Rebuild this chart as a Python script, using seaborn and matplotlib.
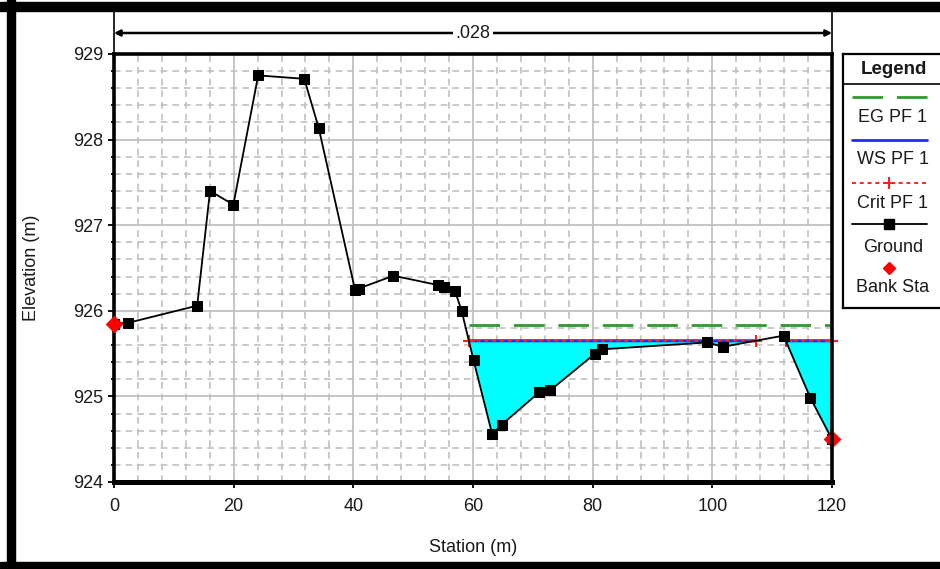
import numpy as np
import pandas as pd
import matplotlib
matplotlib.use("Agg")
import matplotlib.pyplot as plt
from matplotlib.lines import Line2D
from matplotlib.patches import Rectangle
from matplotlib.ticker import MultipleLocator
import seaborn as sns

# ---------------- data ----------------
station = [0, 2.4, 13.9, 16.05, 19.95, 24.1, 31.8, 34.2, 40.3, 40.9, 46.7, 54.2, 55.1,
           57.0, 58.1, 60.1, 63.2, 64.8, 71.1, 72.9, 80.4, 81.5, 99.1, 101.8, 111.9,
           116.4, 120]
elevation = [925.85, 925.86, 926.06, 927.40, 927.24, 928.75, 928.71, 928.14, 926.24,
             926.26, 926.41, 926.30, 926.28, 926.23, 926.00, 925.42, 924.56, 924.67,
             925.05, 925.07, 925.50, 925.55, 925.63, 925.58, 925.71, 924.98, 924.50]
bank_sta = [0, 120]
ws_elev = 925.65      # WS PF 1
crit_elev = 925.65    # Crit PF 1
eg_elev = 925.83      # EG PF 1
channel_start = 58.1  # left edge of the main channel search
mannings_n = ".028"
x_ticks = [0, 20, 40, 60, 80, 100, 120]
y_ticks = [924, 925, 926, 927, 928, 929]
legend_labels = ["EG PF 1", "WS PF 1", "Crit PF 1", "Ground", "Bank Sta"]

# ---------------- style ----------------
sns.set_style("white")
plt.rcParams["font.family"] = ["Liberation Sans", "DejaVu Sans"]

W, H = 940, 569
fig = plt.figure(figsize=(W / 100, H / 100), dpi=100)

def fx(px):
    return px / W

def fy(py):
    return 1 - py / H

ax = fig.add_axes([fx(114), fy(482), fx(832) - fx(114), fy(54) - fy(482)])
ax.set_xlim(x_ticks[0], x_ticks[-1])
ax.set_ylim(y_ticks[0], y_ticks[-1])

# grid
ax.xaxis.set_major_locator(MultipleLocator(20))
ax.xaxis.set_minor_locator(MultipleLocator(4))
ax.yaxis.set_major_locator(MultipleLocator(1))
ax.yaxis.set_minor_locator(MultipleLocator(0.2))
ax.grid(which="major", color="#c0c0c0", lw=1.3, ls="-", zorder=0)
ax.grid(which="minor", color="#c0c0c0", lw=1.2, ls=(0, (4, 3)), zorder=0)
ax.set_axisbelow(True)

# water surface computations
st = np.array(station, dtype=float)
el = np.array(elevation, dtype=float)
xs = np.linspace(channel_start, st[-1], 4000)
gi = np.interp(xs, st, el)
wet = gi < ws_elev

ax.fill_between(xs, gi, ws_elev, where=wet, interpolate=True, color="#00ffff",
                lw=0, zorder=2)

ws_line = np.where(wet, ws_elev, np.nan)
crit_line = np.where(gi < crit_elev, crit_elev, np.nan)
x_wet = xs[wet]

# EG line
eg_df = pd.DataFrame({"x": [x_wet.min(), st[-1]], "y": [eg_elev, eg_elev]})
sns.lineplot(data=eg_df, x="x", y="y", ax=ax, color="#2f9a2f", lw=2.0, zorder=3)
ax.lines[-1].set_linestyle((0, (11, 5)))

# WS line
ax.plot(xs, ws_line, color="#2828ff", lw=2.2, zorder=3, solid_capstyle="butt")
# Crit line (red dashes on top)
ax.plot(xs, crit_line, color="#ff2020", lw=1.4, ls=(0, (2, 2)), zorder=4)
# + markers at the ends of each crit segment
mask = ~np.isnan(crit_line)
edges = np.flatnonzero(np.diff(np.concatenate([[0], mask.astype(int), [0]])))
ends_x = []
for a, b in zip(edges[::2], edges[1::2]):
    ends_x += [xs[a], xs[b - 1]]
ax.plot(ends_x, [crit_elev] * len(ends_x), ls="none", marker="+", color="#ff2020",
        ms=8, mew=1.5, zorder=4, clip_on=False)

# Ground
gdf = pd.DataFrame({"Station": station, "Elevation": elevation})
sns.lineplot(data=gdf, x="Station", y="Elevation", ax=ax, color="black", lw=1.3,
             marker="s", markersize=7, markeredgecolor="black", sort=False, zorder=5)

# Bank stations
bdf = pd.DataFrame({"x": bank_sta, "y": np.interp(bank_sta, st, el)})
sns.scatterplot(data=bdf, x="x", y="y", ax=ax, marker="D", color="#ff0000", s=70,
                edgecolor="#ff0000", zorder=7, clip_on=False)

# axes cosmetics
for side, lw in [("left", 2.6), ("top", 2.6), ("right", 2.6), ("bottom", 3.6)]:
    ax.spines[side].set_visible(True)
    ax.spines[side].set_color("black")
    ax.spines[side].set_linewidth(lw)
ax.spines["right"].set_zorder(8)

ax.set_xticks(x_ticks)
ax.set_yticks(y_ticks)
ax.tick_params(which="major", direction="out", length=4.5, width=1.3, color="black",
               labelsize=13, pad=3, labelcolor="#1a1a1a",
               bottom=True, left=True, top=False, right=False)
ax.tick_params(which="minor", direction="out", length=2.5, width=1.3, color="black",
               bottom=True, left=True, top=False, right=False)
ax.tick_params(axis="x", which="major", pad=7)

ax.set_xlabel("Station (m)", fontsize=13, color="#1a1a1a")
ax.set_ylabel("Elevation (m)", fontsize=13, color="#1a1a1a")
ax.xaxis.set_label_coords(0.5, -(548 - 482) / 428, transform=ax.transAxes)
ax.yaxis.set_label_coords(-(114 - 32) / 718, 0.5, transform=ax.transAxes)
ax.xaxis.label.set_verticalalignment("center")
ax.yaxis.label.set_verticalalignment("center")

# Manning's n arrow above the plot
trans = ax.get_xaxis_transform()
y_arrow = (482 - 33) / 428
y_top = (482 - 12) / 428
for xv in [x_ticks[0], x_ticks[-1]]:
    ax.plot([xv, xv], [1.0, y_top], color="black", lw=1.2, transform=trans,
            clip_on=False, zorder=1)
ax.annotate("", xy=(x_ticks[-1], y_arrow), xytext=(x_ticks[0], y_arrow),
            xycoords=trans, textcoords=trans,
            arrowprops=dict(arrowstyle="<|-|>,head_length=0.35,head_width=0.18",
                            lw=1.8, color="black", shrinkA=0, shrinkB=0))
ax.text(np.mean([x_ticks[0], x_ticks[-1]]), y_arrow, mannings_n, transform=trans,
        ha="center", va="center", fontsize=13, color="#1a1a1a",
        bbox=dict(facecolor="white", edgecolor="none", pad=1.5), zorder=5)

# Legend box (custom, as in HEC-RAS)
lax = fig.add_axes([fx(843), fy(308), fx(960) - fx(843), fy(54) - fy(308)])
lax.set_xlim(843, 960)
lax.set_ylim(308, 54)
lax.set_xticks([])
lax.set_yticks([])
for s in lax.spines.values():
    s.set_linewidth(1.6)
    s.set_color("black")
lax.patch.set_facecolor("white")
lax.text(894, 69, "Legend", ha="center", va="center", fontsize=13.5,
         fontweight="bold", color="#1a1a1a")
lax.plot([843, 960], [84, 84], color="black", lw=1.2)
x0, x1 = 852, 927
lax.add_line(Line2D([x0, x1], [97, 97], color="#2f9a2f", lw=2.0, ls=(0, (11, 5))))
lax.add_line(Line2D([x0, x1], [140, 140], color="#2828ff", lw=2.0))
lax.add_line(Line2D([x0, x1], [183, 183], color="#ff2020", lw=1.4, ls=(0, (2, 2))))
lax.plot([(x0 + x1) / 2], [183], marker="+", color="#ff2020", ms=8, mew=1.5)
lax.add_line(Line2D([x0, x1], [224, 224], color="black", lw=1.3))
lax.plot([(x0 + x1) / 2], [224], marker="s", color="black", ms=7)
lax.plot([(x0 + x1) / 2], [268], marker="D", color="#ff0000", ms=6.5)
for lbl, yy in zip(legend_labels, [118, 160, 203, 247, 288]):
    lax.text(893, yy, lbl, ha="center", va="center", fontsize=13, color="#1a1a1a")

# Outer frame of the window
for (x, y, w, h) in [(0, 2, W, 9), (7, 0, 8, H), (0, 562, W, 7)]:
    fig.patches.append(Rectangle((fx(x), fy(y + h)), w / W, h / H,
                                 transform=fig.transFigure, color="black", zorder=10))

fig.savefig("out.png", dpi=100)
